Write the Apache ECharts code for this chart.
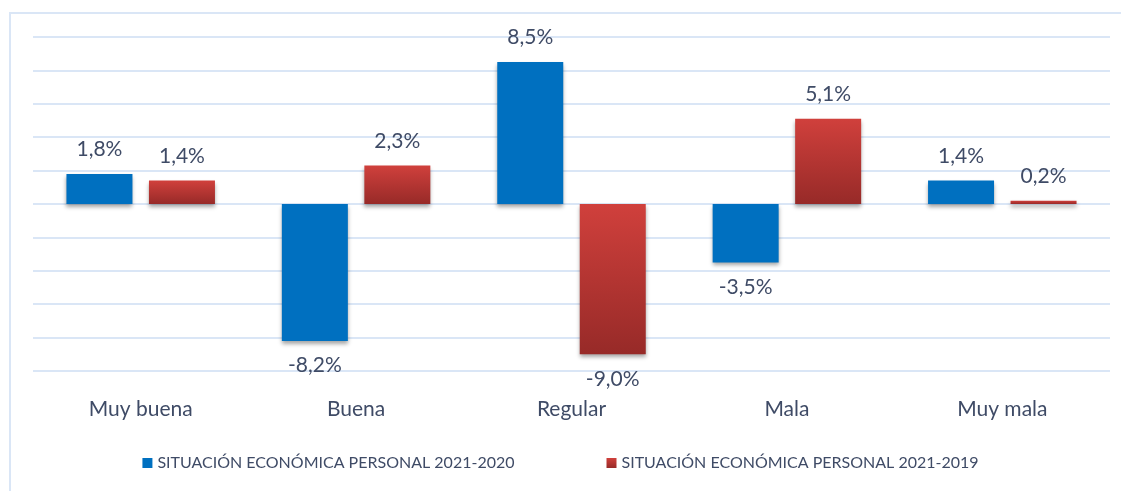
<!DOCTYPE html>
<html>
<head>
<meta charset="utf-8">
<script src="https://cdn.jsdelivr.net/npm/echarts@6/dist/echarts.min.js"></script>
<style>
  html, body { margin: 0; padding: 0; background: #fff; }
  #chart { width: 1121px; height: 491px; }
</style>
</head>
<body>
<div id="chart"></div>
<script>
  // categorías y valores (%)
  var categories = ['Muy buena', 'Buena', 'Regular', 'Mala', 'Muy mala'];
  var serie2020 = [1.8, -8.2, 8.5, -3.5, 1.4];
  var serie2019 = [1.4, 2.3, -9.0, 5.1, 0.2];
  var seriesNames = ['SITUACIÓN ECONÓMICA PERSONAL 2021-2020', 'SITUACIÓN ECONÓMICA PERSONAL 2021-2019'];

  var textColor = '#3f4b66';
  var fontFam = 'Lato, "Open Sans", sans-serif';

  function fmt(p) {
    return p.value.toFixed(1).replace('.', ',') + '%';
  }

  var chart = echarts.init(document.getElementById('chart'));
  chart.setOption({
    backgroundColor: '#fff',
    animation: false,
    graphic: [{
      type: 'rect',
      shape: { x: 10, y: 13, width: 1130, height: 500 },
      style: { fill: 'none', stroke: '#dae6f6', lineWidth: 2 },
      z: -1
    }],
    legend: {
      data: seriesNames,
      bottom: 15,
      left: 'center',
      itemWidth: 10,
      itemHeight: 10,
      itemGap: 92,
      icon: 'rect',
      textStyle: { color: textColor, fontSize: 16, fontFamily: fontFam }
    },
    grid: { left: 33, right: 11, top: 37, bottom: 120 },
    xAxis: {
      type: 'category',
      data: categories,
      axisLine: { show: false, onZero: false },
      axisTick: { show: false },
      axisLabel: { color: textColor, fontSize: 21, fontFamily: fontFam, margin: 28 }
    },
    yAxis: {
      type: 'value',
      min: -10,
      max: 10,
      interval: 2,
      axisLabel: { show: false },
      axisLine: { show: false },
      axisTick: { show: false },
      splitLine: { lineStyle: { color: '#dae6f6', width: 2 } }
    },
    series: [
      {
        name: seriesNames[0],
        type: 'bar',
        data: serie2020,
        barWidth: 66,
        barGap: '25%',
        itemStyle: {
          color: '#0070c0',
          shadowColor: 'rgba(0,0,0,0.35)',
          shadowBlur: 4,
          shadowOffsetY: 3
        },
        label: {
          show: true,
          position: 'outside',
          distance: 14,
          formatter: fmt,
          color: textColor,
          fontSize: 21,
          fontFamily: fontFam
        }
      },
      {
        name: seriesNames[1],
        type: 'bar',
        data: serie2019,
        barWidth: 66,
        itemStyle: {
          color: new echarts.graphic.LinearGradient(0, 0, 0, 1, [
            { offset: 0, color: '#d0403c' },
            { offset: 1, color: '#972a28' }
          ]),
          shadowColor: 'rgba(0,0,0,0.35)',
          shadowBlur: 4,
          shadowOffsetY: 3
        },
        label: {
          show: true,
          position: 'outside',
          distance: 14,
          formatter: fmt,
          color: textColor,
          fontSize: 21,
          fontFamily: fontFam
        }
      }
    ]
  });
</script>
</body>
</html>
